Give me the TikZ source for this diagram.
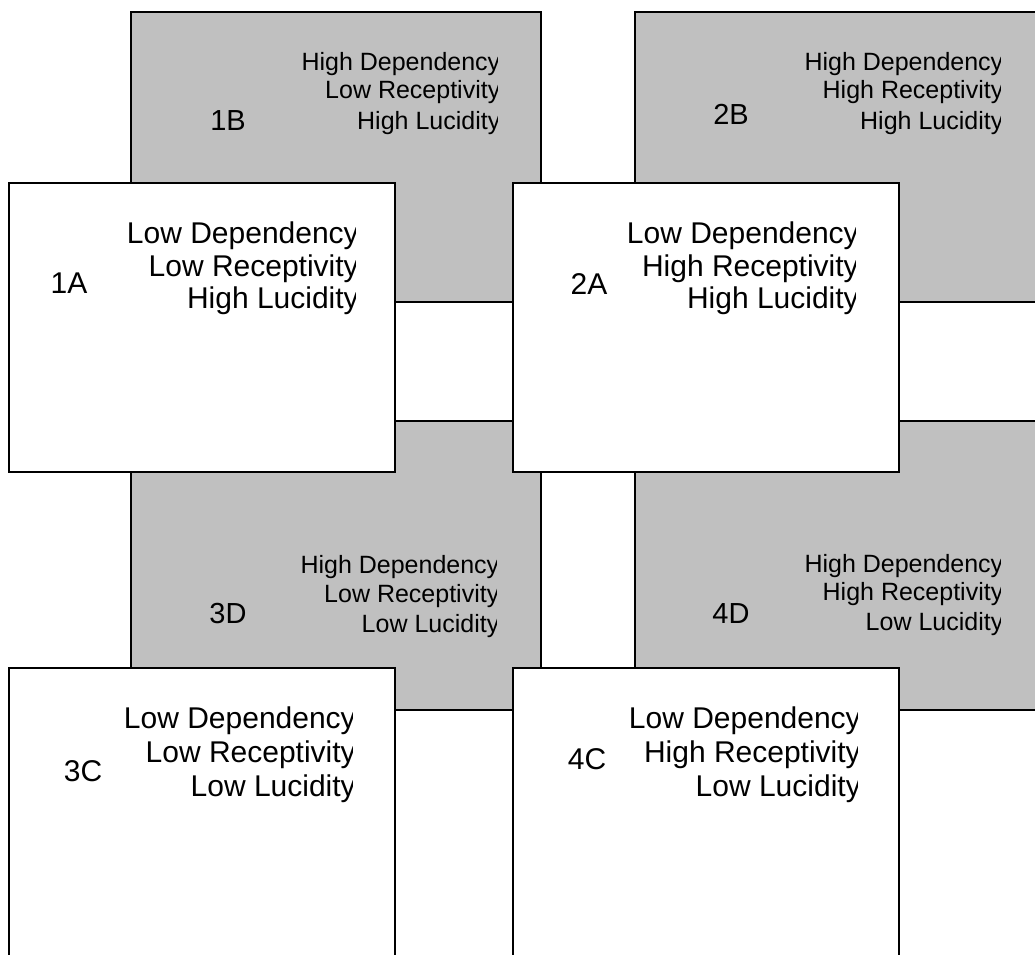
\documentclass[tikz,border=0pt]{standalone}
\usepackage{fontspec}
\setmainfont{Liberation Sans}
\definecolor{silverfill}{RGB}{192,192,192}
\begin{document}
\begin{tikzpicture}[x=1pt,y=-1pt,
  gbox/.style={draw=black, line width=2pt, fill=silverfill},
  wbox/.style={draw=black, line width=2pt, fill=white},
  wtxt/.style={font=\fontsize{30}{32}\selectfont, inner sep=0pt, anchor=base east},
  gtxt/.style={font=\fontsize{25}{28}\selectfont, inner sep=0pt, anchor=base east},
  wlab/.style={font=\fontsize{30}{32}\selectfont, inner sep=0pt, anchor=base},
  glab/.style={font=\fontsize{29}{32}\selectfont, inner sep=0pt, anchor=base}]
\useasboundingbox (0,0) rectangle (1035,954);
\clip (0,0) rectangle (1035,954);
\fill[white] (0,0) rectangle (1035,954);
% gray boxes
\draw[gbox] (131,12) rectangle (541,302);
\draw[gbox] (635,12) rectangle (1045,302);
\draw[gbox] (131,421) rectangle (541,710);
\draw[gbox] (635,421) rectangle (1045,710);
% gray texts
\begin{scope}
\clip (131,12) rectangle (497,302);
\node[gtxt] (b1a) at (500.5,70) {High Dependency};
\node[gtxt] (b1b) at (500.5,98) {Low Receptivity};
\node[gtxt] (b1c) at (500.5,129) {High Lucidity};
\end{scope}
\node[glab] (b1lab) at (228,130) {1B};
\begin{scope}
\clip (635,12) rectangle (1000,302);
\node[gtxt] (b2a) at (1003.5,70) {High Dependency};
\node[gtxt] (b2b) at (1003.5,98) {High Receptivity};
\node[gtxt] (b2c) at (1003.5,129) {High Lucidity};
\end{scope}
\node[glab] (b2lab) at (731,124) {2B};
\begin{scope}
\clip (131,421) rectangle (496,710);
\node[gtxt] (d3a) at (499.5,573) {High Dependency};
\node[gtxt] (d3b) at (499.5,602) {Low Receptivity};
\node[gtxt] (d3c) at (499.5,632) {Low Lucidity};
\end{scope}
\node[glab] (d3lab) at (228,623) {3D};
\begin{scope}
\clip (635,421) rectangle (1000,710);
\node[gtxt] (d4a) at (1003.5,572) {High Dependency};
\node[gtxt] (d4b) at (1003.5,600) {High Receptivity};
\node[gtxt] (d4c) at (1003.5,630) {Low Lucidity};
\end{scope}
\node[glab] (d4lab) at (731,623) {4D};
% white boxes
\draw[wbox] (9,183) rectangle (395,472);
\draw[wbox] (513,183) rectangle (899,472);
\draw[wbox] (9,668) rectangle (395,975);
\draw[wbox] (513,668) rectangle (899,975);
% white texts
\begin{scope}
\clip (9,183) rectangle (355,472);
\node[wtxt] (a1a) at (359,243) {Low Dependency};
\node[wtxt] (a1b) at (359,276) {Low Receptivity};
\node[wtxt] (a1c) at (359,308) {High Lucidity};
\end{scope}
\node[wlab] (a1lab) at (69,293) {1A};
\begin{scope}
\clip (513,183) rectangle (855,472);
\node[wtxt] (a2a) at (859,243) {Low Dependency};
\node[wtxt] (a2b) at (859,276) {High Receptivity};
\node[wtxt] (a2c) at (859,308) {High Lucidity};
\end{scope}
\node[wlab] (a2lab) at (589,294) {2A};
\begin{scope}
\clip (9,668) rectangle (352,954);
\node[wtxt] (c3a) at (356,728) {Low Dependency};
\node[wtxt] (c3b) at (356,762) {Low Receptivity};
\node[wtxt] (c3c) at (356,796) {Low Lucidity};
\end{scope}
\node[wlab] (c3lab) at (83,781) {3C};
\begin{scope}
\clip (513,668) rectangle (857,954);
\node[wtxt] (c4a) at (861,728) {Low Dependency};
\node[wtxt] (c4b) at (861,762) {High Receptivity};
\node[wtxt] (c4c) at (861,796) {Low Lucidity};
\end{scope}
\node[wlab] (c4lab) at (587,769) {4C};
\end{tikzpicture}
\end{document}
